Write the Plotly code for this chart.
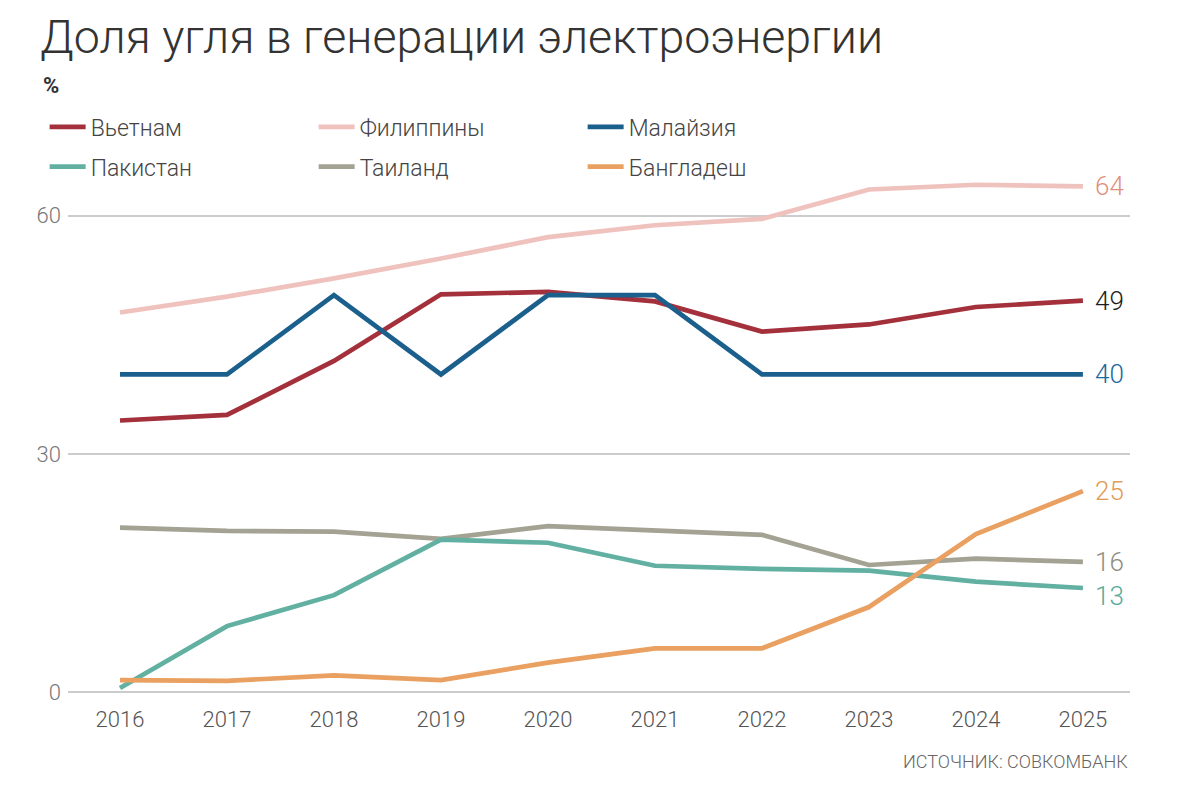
import plotly.graph_objects as go

years = [2016, 2017, 2018, 2019, 2020, 2021, 2022, 2023, 2024, 2025]

vietnam = [34.2, 34.9, 41.7, 50.1, 50.4, 49.2, 45.4, 46.3, 48.5, 49.3]
philippines = [47.8, 49.8, 52.1, 54.6, 57.3, 58.8, 59.6, 63.3, 63.9, 63.7]
malaysia = [40, 40, 50, 40, 50, 50, 40, 40, 40, 40]
pakistan = [0.5, 8.3, 12.2, 19.2, 18.8, 15.9, 15.5, 15.3, 13.9, 13.1]
thailand = [20.7, 20.3, 20.2, 19.3, 20.9, 20.4, 19.8, 16.0, 16.8, 16.4]
bangladesh = [1.5, 1.4, 2.1, 1.5, 3.7, 5.5, 5.5, 10.7, 19.9, 25.3]

names = ["Вьетнам", "Филиппины", "Малайзия", "Пакистан", "Таиланд", "Бангладеш"]
series = [vietnam, philippines, malaysia, pakistan, thailand, bangladesh]
colors = ["#a3303b", "#f0c2be", "#1b5f8c", "#62b0a2", "#a3a293", "#e9a061"]
end_labels = ["49", "64", "40", "13", "16", "25"]
label_colors = ["#1e1e1e", "#e0927f", "#1b6a9e", "#5aa99b", "#8f8e84", "#e39b58"]
label_yshift = [0, 0, 0, -8, 0, 0]
legend_ids = ["legend", "legend", "legend", "legend2", "legend2", "legend2"]

FONT = "Roboto"

fig = go.Figure()
order = [1, 4, 3, 5, 0, 2]
for i in order:
    fig.add_trace(go.Scatter(
        x=years, y=series[i], name=names[i], mode="lines",
        line=dict(color=colors[i], width=4.7),
        legend=legend_ids[i], legendrank=i,
    ))

for i in range(6):
    fig.add_annotation(
        x=years[-1], y=series[i][-1], text=end_labels[i], showarrow=False,
        xanchor="left", yanchor="middle", xshift=10, yshift=label_yshift[i],
        font=dict(family=FONT, size=26, color=label_colors[i], weight=300),
    )

fig.add_annotation(
    xref="paper", yref="paper", x=1.0, y=-0.135, xanchor="right", yanchor="middle",
    text="ИСТОЧНИК: СОВКОМБАНК", showarrow=False,
    font=dict(family=FONT, size=18, color="#666666", weight=300),
)
fig.add_annotation(
    xref="paper", yref="paper", x=-0.025, y=1.176, xanchor="left", yanchor="middle",
    text="%", showarrow=False,
    font=dict(family=FONT, size=22, color="#333333", weight=700),
)

legend_common = dict(
    orientation="h", xanchor="left", yanchor="middle",
    entrywidth=218, entrywidthmode="pixels",
    font=dict(family=FONT, size=23, color="#444444", weight=300),
    bgcolor="rgba(0,0,0,0)", itemwidth=36, traceorder="normal",
)

fig.update_layout(
    width=1177, height=808,
    margin=dict(l=68, r=47, t=176, b=116),
    paper_bgcolor="white", plot_bgcolor="white",
    title=dict(
        text="Доля угля в генерации электроэнергии",
        x=0.034, xanchor="left", y=0.955, yanchor="middle",
        font=dict(family=FONT, size=46.5, color="#333333", weight=300),
    ),
    legend=dict(x=-0.022, y=1.095, **legend_common),
    legend2=dict(x=-0.022, y=1.018, **legend_common),
    xaxis=dict(
        range=[2015.514, 2025.44], tickmode="array", tickvals=years,
        ticktext=[str(y) for y in years], showgrid=False, zeroline=False,
        showline=False, ticks="", ticklabelstandoff=12,
        tickfont=dict(family=FONT, size=22, color="#555555", weight=300),
    ),
    yaxis=dict(
        range=[0, 65], tickvals=[0, 30, 60], showgrid=True,
        gridcolor="#cccccc", gridwidth=2, zeroline=True,
        zerolinecolor="#cccccc", zerolinewidth=2, showline=False,
        ticks="", ticklabelstandoff=6,
        tickfont=dict(family=FONT, size=22, color="#777777", weight=300),
    ),
    showlegend=True,
)

fig.write_html("out.html")
